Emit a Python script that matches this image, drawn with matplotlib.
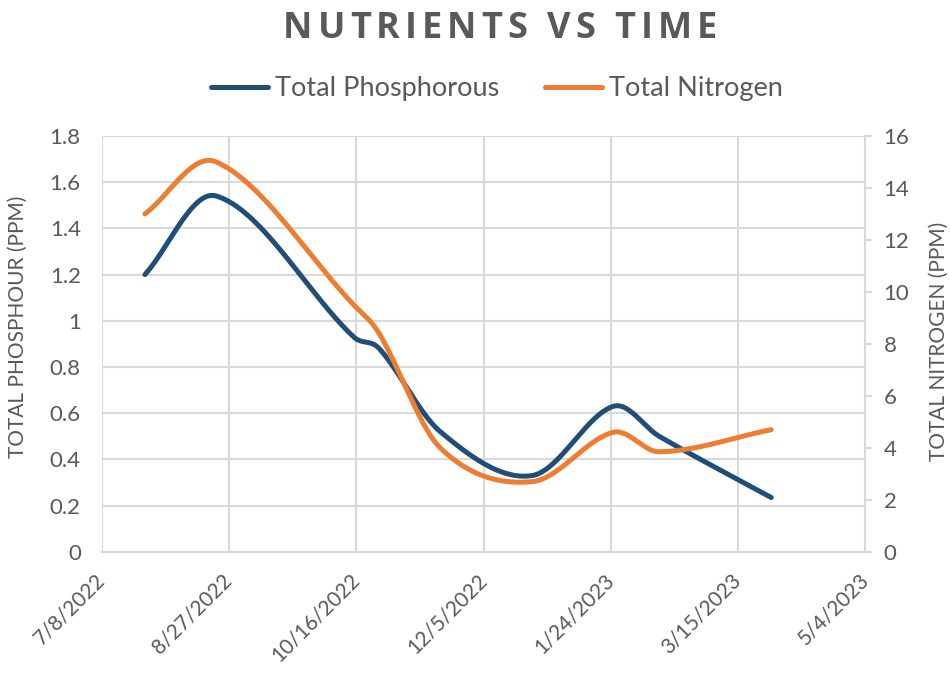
import numpy as np
import matplotlib
matplotlib.use("Agg")
import matplotlib.pyplot as plt
import matplotlib.dates as mdates
import datetime

plt.rcParams["font.family"] = ["Lato", "DejaVu Sans"]

# sample dates and readings
dates = ["2022-07-25", "2022-08-22", "2022-10-15", "2022-10-25", "2022-11-18",
         "2022-12-24", "2023-01-25", "2023-02-12", "2023-03-28"]
phosphorous = [1.20, 1.54, 0.93, 0.88, 0.52, 0.33, 0.63, 0.50, 0.235]
nitrogen = [13.0, 15.0, 9.5, 8.4, 4.0, 2.7, 4.6, 3.85, 4.7]

x_ticks = ["2022-07-08", "2022-08-27", "2022-10-16", "2022-12-05",
           "2023-01-24", "2023-03-15", "2023-05-04"]

title = "NUTRIENTS VS TIME"

BLUE = "#1F4E79"
ORANGE = "#ED7D31"
GREY = "#595959"
GRID = "#D9D9D9"


def smooth(x, y, n=60):
    # cubic hermite through the points, slopes from neighbours (close to excel's smoothed line)
    x = np.asarray(x, float)
    y = np.asarray(y, float)
    m = np.zeros_like(y)
    m[1:-1] = (y[2:] - y[:-2]) / (x[2:] - x[:-2])
    m[0] = (y[1] - y[0]) / (x[1] - x[0])
    m[-1] = (y[-1] - y[-2]) / (x[-1] - x[-2])
    xs, ys = [], []
    t = np.linspace(0, 1, n)
    for i in range(len(x) - 1):
        h = x[i + 1] - x[i]
        h00 = 2 * t ** 3 - 3 * t ** 2 + 1
        h10 = t ** 3 - 2 * t ** 2 + t
        h01 = -2 * t ** 3 + 3 * t ** 2
        h11 = t ** 3 - t ** 2
        xs.append(x[i] + h * t)
        ys.append(h00 * y[i] + h10 * h * m[i] + h01 * y[i + 1] + h11 * h * m[i + 1])
    return np.concatenate(xs), np.concatenate(ys)


xd = mdates.date2num([datetime.date.fromisoformat(d) for d in dates])
xt = mdates.date2num([datetime.date.fromisoformat(d) for d in x_ticks])

fig = plt.figure(figsize=(9.5, 6.83), dpi=100)
ax = fig.add_axes([0.107, 0.192, 0.804, 0.609])
ax2 = ax.twinx()

sx, sy = smooth(xd, phosphorous)
lp, = ax.plot(sx, sy, color=BLUE, lw=3.6, solid_capstyle="round", label="Total Phosphorous")
sx, sy = smooth(xd, nitrogen)
ln, = ax2.plot(sx, sy, color=ORANGE, lw=3.6, solid_capstyle="round", label="Total Nitrogen")

ax.set_xlim(xt[0], xt[-1])
ax.set_ylim(0, 1.8)
ax2.set_ylim(0, 16)
ax.set_yticks(np.arange(0, 1.81, 0.2))
ax.set_yticklabels(["0", "0.2", "0.4", "0.6", "0.8", "1", "1.2", "1.4", "1.6", "1.8"])
ax2.set_yticks(np.arange(0, 17, 2))
ax.set_xticks(xt)
ax.set_xticklabels([datetime.date.fromisoformat(d).strftime("%-m/%-d/%Y") for d in x_ticks],
                   rotation=45, ha="right", va="center", rotation_mode="anchor")

ax.grid(True, color=GRID, lw=1.5)
ax.set_axisbelow(True)
for a in (ax, ax2):
    for s in a.spines.values():
        s.set_visible(False)
ax.spines["bottom"].set_visible(True)
ax.spines["bottom"].set_color(GRID)
ax.spines["bottom"].set_linewidth(1.5)
ax2.spines["right"].set_visible(True)
ax2.spines["right"].set_color(GRID)
ax2.spines["right"].set_linewidth(1.5)

ax.tick_params(axis="both", colors=GREY, labelsize=16, length=0)
ax.tick_params(axis="y", pad=15)
ax.tick_params(axis="x", pad=18, labelsize=15)
ax2.tick_params(axis="y", colors=GREY, labelsize=16, length=5, width=1.5, color=GRID, pad=8)
ax2.tick_params(axis="y", labelcolor=GREY)

ax.set_ylabel("TOTAL PHOSPHOUR (PPM)", color=GREY, fontsize=15)
ax.yaxis.set_label_coords(-0.096, 0.54)
ax2.set_ylabel("TOTAL NITROGEN (PPM)", color=GREY, fontsize=15)
ax2.yaxis.set_label_coords(1.083, 0.505)

# title with wide letter spacing, placed char by char
renderer = fig.canvas.get_renderer()
tkw = dict(fontsize=26, fontweight="bold", color=GREY, family=["Open Sans", "DejaVu Sans"])
spacing = 5.0
probe = fig.text(0, 0, title, **tkw)
full_w = probe.get_window_extent(renderer).width
probe.remove()
fig_w = fig.get_figwidth() * fig.dpi
fig_h = fig.get_figheight() * fig.dpi
x0 = 500 - (full_w + spacing * (len(title) - 1)) / 2
for i, ch in enumerate(title):
    if i:
        p = fig.text(0, 0, title[:i] + "|", **tkw)
        bar = fig.text(0, 0, "|", **tkw)
        off = p.get_window_extent(renderer).width - bar.get_window_extent(renderer).width
        p.remove()
        bar.remove()
    else:
        off = 0
    fig.text((x0 + off + spacing * i) / fig_w, 1 - 29 / fig_h, ch, ha="left", va="center", **tkw)

fig.legend(handles=[lp, ln], loc="center", bbox_to_anchor=(0.523, 0.87), ncol=2,
           frameon=False, fontsize=19.5, labelcolor=GREY, handlelength=2.1,
           handletextpad=0.25, columnspacing=1.7)

fig.savefig("out.png", dpi=100)
